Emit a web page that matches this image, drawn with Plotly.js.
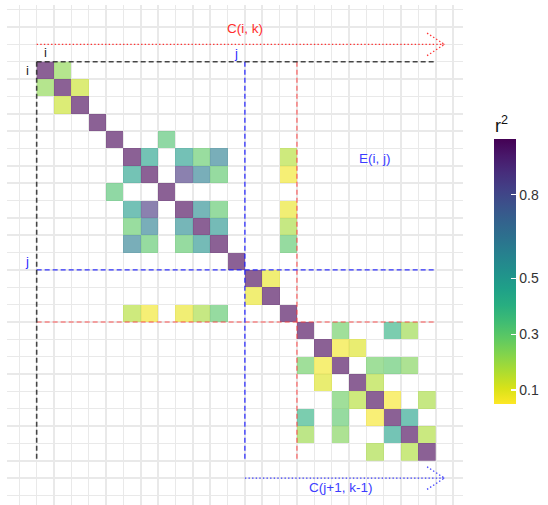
<!DOCTYPE html>
<html>
<head>
<meta charset="utf-8">
<script src="https://cdn.plot.ly/plotly-3.0.1.min.js"></script>
<style>
  html, body { margin: 0; padding: 0; background: #ffffff; }
  #plot { width: 548px; height: 505px; }
</style>
</head>
<body>
<div id="plot"></div>
<script>
// Number of SNPs in the LD block
const snpCount = 23;

// Pairwise r^2 values (upper triangle; the matrix is symmetric, diagonal = 1)
const pairRow = [0, 1, 4, 5, 5, 5, 5, 6, 6, 6, 8, 8, 9,
                 5, 6, 8, 9, 10, 12,
                 15, 15, 15, 16, 16, 17, 17, 17, 18, 19, 19, 20, 21];
const pairCol = [1, 2, 7, 6, 8, 9, 10, 8, 9, 10, 9, 10, 10,
                 14, 14, 14, 14, 14, 13,
                 17, 20, 21, 17, 18, 19, 20, 21, 19, 20, 22, 21, 22];
const pairR2  = [0.22, 0.13, 0.32, 0.47, 0.48, 0.29, 0.60, 0.86, 0.60, 0.30, 0.55, 0.30, 0.52,
                 0.16, 0.07, 0.08, 0.18, 0.30, 0.08,
                 0.27, 0.40, 0.20, 0.07, 0.10, 0.27, 0.30, 0.24, 0.16, 0.06, 0.18, 0.46, 0.17];

// Block boundary indices
const iIdx = 0, jIdx = 11, kIdx = 15;

// Colour bar
const cMin = 0.05, cMax = 1.0;
const cbTickVals = [0.1, 0.3, 0.5, 0.8];
const cbTickText = ['0.1', '0.3', '0.5', '0.8'];

// Figure geometry
const W = 548, H = 505;
const margin = { l: 7, r: 85, t: 5, b: 0, pad: 0 };
const xRange = [-2.21, 24.07];
const yRange = [25.05, -3.77];
const cbLeftPx = 494, cbThick = 22, cbTopPx = 141.7, cbLen = 265;

// Build symmetric matrix
const idx = Array.from({ length: snpCount }, (_, k) => k);
const z = idx.map(r => idx.map(c => (r === c ? 1 : null)));
pairRow.forEach((r, n) => {
  const c = pairCol[n];
  z[r][c] = pairR2[n];
  z[c][r] = pairR2[n];
});

const heat = {
  type: 'heatmap',
  x: idx, y: idx, z: z,
  colorscale: 'Viridis', reversescale: true,
  zmin: cMin, zmax: cMax,
  opacity: 0.62,
  showscale: false,
  hoverongaps: false
};

// Legend trace (full-strength colours)
const plotW = W - margin.l - margin.r, plotH = H - margin.t - margin.b;
const legendTrace = {
  type: 'scatter', mode: 'markers',
  x: [null], y: [null],
  showlegend: false, hoverinfo: 'skip',
  marker: {
    color: [cMin], cmin: cMin, cmax: cMax,
    colorscale: 'Viridis', reversescale: true,
    showscale: true,
    colorbar: {
      xref: 'container', yref: 'container',
      x: cbLeftPx / W, xanchor: 'left', xpad: 0,
      y: 1 - (cbTopPx + cbLen / 2) / H, yanchor: 'middle', ypad: 0,
      thickness: cbThick, thicknessmode: 'pixels',
      len: cbLen, lenmode: 'pixels',
      outlinewidth: 0,
      tickvals: cbTickVals, ticktext: cbTickText,
      ticks: 'inside', ticklen: 4.5, tickwidth: 1.3, tickcolor: '#ffffff',
      tickfont: { family: 'Liberation Sans, Arial, sans-serif', size: 14, color: '#333333' }
    }
  }
};

// helpers: pixel -> paper
const pxToPaperX = px => (px - margin.l) / plotW;
const pxToPaperY = py => (H - margin.b - py) / plotH;
const valToBarY = v => cbTopPx + (cMax - v) / (cMax - cMin) * cbLen;

const shapes = [];
function seg(x0, y0, x1, y1, color, width, dash) {
  shapes.push({ type: 'line', xref: 'x', yref: 'y', x0, y0, x1, y1,
    line: { color, width, dash } });
}
const lo = iIdx - 0.5, hi = snpCount - 0.5;
const dashPat = '5px,3px';
// red block lines (k)
seg(kIdx - 0.5, lo, kIdx - 0.5, hi, 'rgba(255,60,60,0.85)', 1.1, dashPat);
seg(lo, kIdx - 0.5, hi, kIdx - 0.5, 'rgba(255,60,60,0.85)', 1.1, dashPat);
// blue block lines (j)
seg(jIdx + 0.5, lo, jIdx + 0.5, hi, 'rgba(30,30,255,0.9)', 1.3, dashPat);
seg(lo, jIdx + 0.5, hi, jIdx + 0.5, 'rgba(30,30,255,0.9)', 1.3, dashPat);
// black block lines (i)
seg(lo, lo, hi, lo, 'rgba(40,40,40,0.85)', 1.6, dashPat);
seg(lo, lo, lo, hi, 'rgba(40,40,40,0.85)', 1.6, dashPat);

// dotted arrows
const dotPat = '1.4px,2.2px';
function dottedArrow(x0, x1, y, color) {
  seg(x0, y, x1, y, color, 1.3, dotPat);
  seg(x1 - 1, y - 0.65, x1, y, color, 1.3, dotPat);
  seg(x1 - 1, y + 0.65, x1, y, color, 1.3, dotPat);
}
dottedArrow(lo, snpCount, iIdx - 1.5, 'rgba(255,40,40,0.95)');
dottedArrow(jIdx + 0.5, snpCount, snpCount + 0.5, 'rgba(50,50,255,0.95)');

// colour bar left-edge ticks (white)
cbTickVals.forEach(v => {
  const py = pxToPaperY(valToBarY(v));
  shapes.push({ type: 'line', xref: 'paper', yref: 'paper',
    x0: pxToPaperX(cbLeftPx), x1: pxToPaperX(cbLeftPx + 4.5), y0: py, y1: py,
    line: { color: '#ffffff', width: 1.3 } });
});

const font = 'Liberation Sans, Arial, sans-serif';
function label(text, x, y, color, size) {
  return { text, x, y, xref: 'x', yref: 'y', showarrow: false,
    xanchor: 'center', yanchor: 'middle',
    font: { family: font, size: size || 13.5, color } };
}
const annotations = [
  label('C(i, k)', jIdx + 0.5, iIdx - 2.4, '#ff2d2d'),
  label('E(i, j)', 19, 5.1, '#3c3cff'),
  label('C(j+1, k-1)', (jIdx + 0.5 + hi) / 2, snpCount + 1.05, '#3c3cff'),
  label('i', iIdx, iIdx - 1.05, '#222222', 13),
  label('i', iIdx - 1.05, iIdx, '#222222', 13),
  label('j', jIdx, iIdx - 0.95, '#2a2aff', 13),
  label('j', iIdx - 1.05, jIdx, '#2a2aff', 13),
  { text: 'r<sup>2</sup>', xref: 'paper', yref: 'paper',
    x: pxToPaperX(cbLeftPx - 1), y: pxToPaperY(124), xanchor: 'left', yanchor: 'middle',
    showarrow: false, font: { family: font, size: 18, color: '#111111' } }
];

const axisCommon = {
  showticklabels: false, ticks: '', zeroline: false,
  showgrid: true, gridcolor: '#e9e9e9', gridwidth: 1.5,
  tick0: 0.5, dtick: 1, showline: false, fixedrange: true
};

const layout = {
  width: W, height: H,
  margin: margin,
  paper_bgcolor: '#ffffff', plot_bgcolor: '#ffffff',
  showlegend: false,
  xaxis: Object.assign({ range: xRange }, axisCommon),
  yaxis: Object.assign({ range: yRange }, axisCommon),
  shapes: shapes,
  annotations: annotations
};

Plotly.newPlot('plot', [heat, legendTrace], layout, { staticPlot: true, displayModeBar: false });
</script>
</body>
</html>
